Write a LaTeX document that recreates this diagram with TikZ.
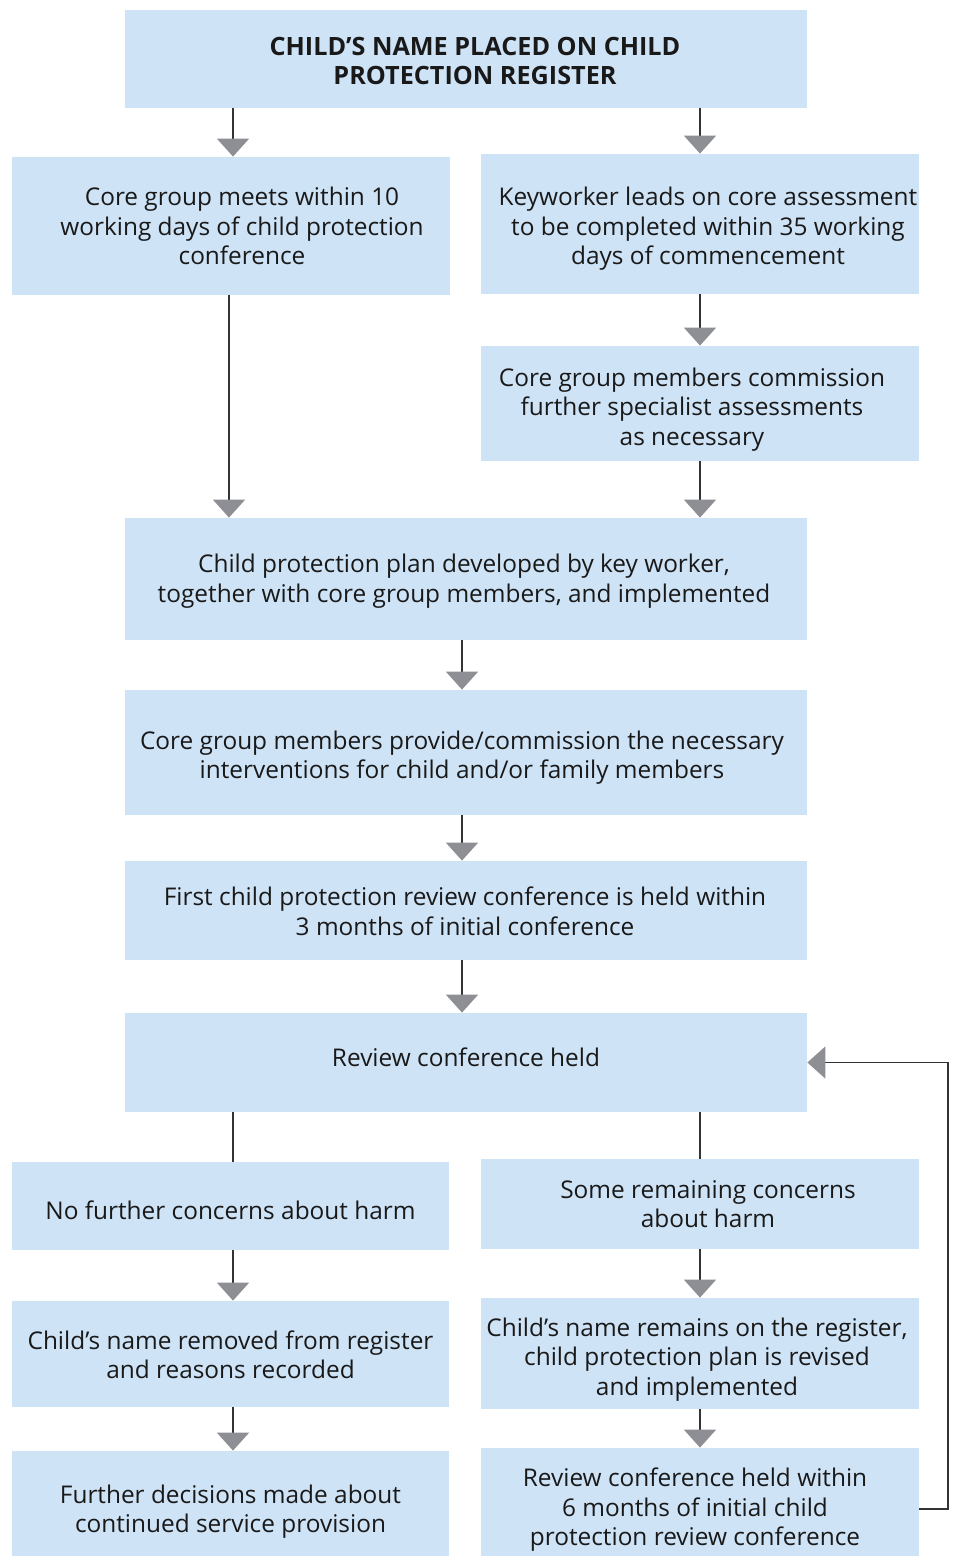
\documentclass[tikz,border=0pt]{standalone}
\usepackage{fontspec}
\setmainfont{Open Sans}
\usetikzlibrary{arrows.meta}
\definecolor{boxblue}{HTML}{CFE3F6}
\definecolor{linegray}{HTML}{333333}
\definecolor{tipgray}{HTML}{8E8F94}
\tikzset{
  bx/.style={fill=boxblue, draw=none, inner sep=0pt},
  txt/.style={align=center, inner sep=0pt,
    font=\fontsize{12.2}{14.75}\selectfont, text=black!90},
  conn/.style={draw=linegray, line width=0.9pt},
  arr/.style={conn, -{Triangle[length=9pt,width=16pt,color=tipgray]}},
}
% name, x1,y1,x2,y2, dx,dy (text offset), text
\newcommand{\bxat}[8]{%
  \node[bx, minimum width={(#4-#2)*0.5pt}, minimum height={(#5-#3)*0.5pt}]
    (#1) at ({(#2+#4)/2},{(#3+#5)/2}) {};
  \node[txt] (#1-t) at ({(#2+#4)/2+#6},{(#3+#5)/2+#7}) {#8};}
\begin{document}
\begin{tikzpicture}[x=0.5pt,y=-0.5pt]
\useasboundingbox (0,0) rectangle (956,1556);
\bxat{top}{125}{10}{807}{108}{9}{2}{\bfseries\fontsize{12.6}{14.75}\selectfont CHILD’S NAME PLACED ON CHILD\\\bfseries\fontsize{12.6}{14.75}\selectfont PROTECTION REGISTER}
\bxat{cl}{12}{157}{450}{295}{11}{0}{Core group meets within 10\\working days of child protection\\conference}
\bxat{kr}{481}{154}{919}{294}{8}{5}{Keyworker leads on core assessment\\to be completed within 35 working\\days of commencement}
\bxat{cs}{481}{346}{919}{461}{-8}{6}{Core group members commission\\further specialist assessments\\as necessary}
\bxat{plan}{125}{518}{807}{640}{-2}{2}{Child protection plan developed by key worker,\\together with core group members, and implemented}
\bxat{intv}{125}{690}{807}{815}{-4}{5}{Core group members provide/commission the necessary\\interventions for child and/or family members}
\bxat{first}{125}{861}{807}{960}{-1}{1}{First child protection review conference is held within\\3 months of initial conference}
\bxat{review}{125}{1013}{807}{1112}{0}{-5}{Review conference held}
\bxat{nof}{12}{1162}{449}{1250}{0}{4}{No further concerns about harm}
\bxat{some}{481}{1159}{919}{1249}{8}{0}{Some remaining concerns\\about harm}
\bxat{rem}{12}{1301}{449}{1407}{0}{1}{Child’s name removed from register\\and reasons recorded}
\bxat{stays}{481}{1298}{919}{1409}{-3}{6}{Child’s name remains on the register,\\child protection plan is revised\\and implemented}
\bxat{fdec}{12}{1451}{449}{1556}{0}{8}{Further decisions made about\\continued service provision}
\bxat{r6}{481}{1448}{919}{1556}{-5}{8}{Review conference held within\\6 months of initial child\\protection review conference}
\coordinate (lx) at (233,0);
\coordinate (lx2) at (229,0);
\coordinate (rx) at (700,0);
\coordinate (cx) at (462,0);
\coordinate (fb) at (948,0);
\draw[arr] (top.south -| lx) -- (cl.north -| lx);
\draw[arr] (top.south -| rx) -- (kr.north -| rx);
\draw[arr] (cl.south -| lx2) -- (plan.north -| lx2);
\draw[arr] (kr.south -| rx) -- (cs.north -| rx);
\draw[arr] (cs.south -| rx) -- (plan.north -| rx);
\draw[arr] (plan.south -| cx) -- (intv.north -| cx);
\draw[arr] (intv.south -| cx) -- (first.north -| cx);
\draw[arr] (first.south -| cx) -- (review.north -| cx);
\draw[conn] (review.south -| lx) -- (nof.north -| lx);
\draw[conn] (review.south -| rx) -- (some.north -| rx);
\draw[arr] (nof.south -| lx) -- (rem.north -| lx);
\draw[arr] (some.south -| rx) -- (stays.north -| rx);
\draw[arr] (rem.south -| lx) -- (fdec.north -| lx);
\draw[arr] (stays.south -| rx) -- (r6.north -| rx);
\draw[arr] ([yshift=-3.5pt]r6.east) -- ([yshift=-3.5pt]r6.east -| fb) -- (review.east -| fb) -- (review.east);
\end{tikzpicture}
\end{document}
